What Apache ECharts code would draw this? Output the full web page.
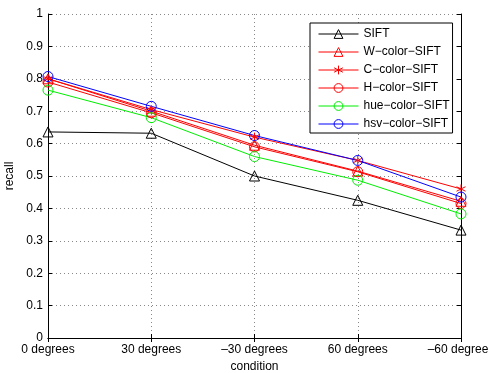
<!DOCTYPE html>
<html><head><meta charset="utf-8">
<script src="https://cdn.jsdelivr.net/npm/echarts@6/dist/echarts.min.js"></script>
<style>html,body{margin:0;padding:0;background:#fff}#c{width:488px;height:373px}</style>
</head><body><div id="c"></div>
<script>
const categories = ['0 degrees', '30 degrees', '\u201330 degrees', '60 degrees', '\u201360 degrees'];
const yTicks = [0, 0.1, 0.2, 0.3, 0.4, 0.5, 0.6, 0.7, 0.8, 0.9, 1];
const sift = [0.636, 0.632, 0.500, 0.425, 0.333];
const wColor = [0.800, 0.700, 0.595, 0.515, 0.422];
const cColor = [0.800, 0.705, 0.620, 0.548, 0.460];
const hColor = [0.790, 0.695, 0.590, 0.513, 0.415];
const hueColor = [0.765, 0.680, 0.560, 0.487, 0.383];
const hsvColor = [0.807, 0.715, 0.625, 0.548, 0.435];
const seriesNames = ['SIFT', 'W\u2212color\u2212SIFT', 'C\u2212color\u2212SIFT', 'H\u2212color\u2212SIFT', 'hue\u2212color\u2212SIFT', 'hsv\u2212color\u2212SIFT'];

const star = 'path://M0,-5L0,5M-4.5,-2.5L4.5,2.5M-4.5,2.5L4.5,-2.5';
function mk(name, data, color, symbol, size) {
  return {
    name, type: 'line', data, symbol, symbolSize: size, showAllSymbol: true, clip: false,
    lineStyle: {color, width: 1},
    itemStyle: {color: 'rgba(255,255,255,0)', borderColor: color, borderWidth: 1},
    emphasis: {disabled: true}, z: 3
  };
}
const font = 'Liberation Sans, Arial, sans-serif';
const chart = echarts.init(document.getElementById('c'), null, {renderer: 'canvas'});
chart.setOption({
  animation: false,
  textStyle: {fontFamily: font},
  grid: {left: 48, right: 27, top: 14, bottom: 35, containLabel: false, outerBoundsMode: 'none'},
  legend: {
    data: seriesNames, orient: 'vertical', left: 310, top: 23,
    backgroundColor: '#fff', borderColor: '#000', borderWidth: 1,
    padding: [5, 3, 3, 8], itemGap: 6, itemWidth: 40, itemHeight: 11,
    itemStyle: {borderWidth: 1},
    lineStyle: {width: 1},
    textStyle: {fontSize: 12, color: '#000', fontFamily: font}
  },
  xAxis: [{
    type: 'category', data: categories, boundaryGap: false,
    name: 'condition', nameLocation: 'middle', nameGap: 23,
    nameTextStyle: {fontSize: 12, color: '#000'},
    axisLine: {lineStyle: {color: '#000', width: 1}},
    axisTick: {inside: true, length: 4, lineStyle: {color: '#000'}},
    axisLabel: {fontSize: 12, color: '#000', margin: 6},
    splitLine: {show: true, lineStyle: {color: '#888', type: [1, 3]}}
  }, {
    type: 'category', data: categories, boundaryGap: false, position: 'top',
    axisLine: {lineStyle: {color: '#000', width: 1}},
    axisTick: {inside: true, length: 4, lineStyle: {color: '#000'}},
    axisLabel: {show: false}, splitLine: {show: false}
  }],
  yAxis: [{
    type: 'value', min: 0, max: 1, interval: 0.1,
    name: 'recall', nameLocation: 'middle', nameGap: 30, nameRotate: 90,
    nameTextStyle: {fontSize: 12, color: '#000'},
    axisLine: {show: true, lineStyle: {color: '#000', width: 1}},
    axisTick: {show: true, inside: true, length: 4, lineStyle: {color: '#000'}},
    axisLabel: {fontSize: 12, color: '#000', margin: 5,
      formatter: v => { const t = yTicks.find(x => Math.abs(x - v) < 1e-6); return t === undefined ? '' : String(+t.toFixed(1)); }},
    splitLine: {show: true, lineStyle: {color: '#888', type: [1, 3]}}
  }, {
    type: 'value', min: 0, max: 1, interval: 0.1, position: 'right',
    axisLine: {show: true, lineStyle: {color: '#000', width: 1}},
    axisTick: {show: true, inside: true, length: 4, lineStyle: {color: '#000'}},
    axisLabel: {show: false}, splitLine: {show: false}
  }],
  series: [
    mk(seriesNames[0], sift, '#000', 'triangle', 10),
    mk(seriesNames[1], wColor, '#ff0000', 'triangle', 10),
    mk(seriesNames[2], cColor, '#ff0000', star, 9),
    mk(seriesNames[3], hColor, '#ff0000', 'circle', 10),
    mk(seriesNames[4], hueColor, '#00ee00', 'circle', 10),
    mk(seriesNames[5], hsvColor, '#0000ff', 'circle', 10)
  ]
});
</script></body></html>
